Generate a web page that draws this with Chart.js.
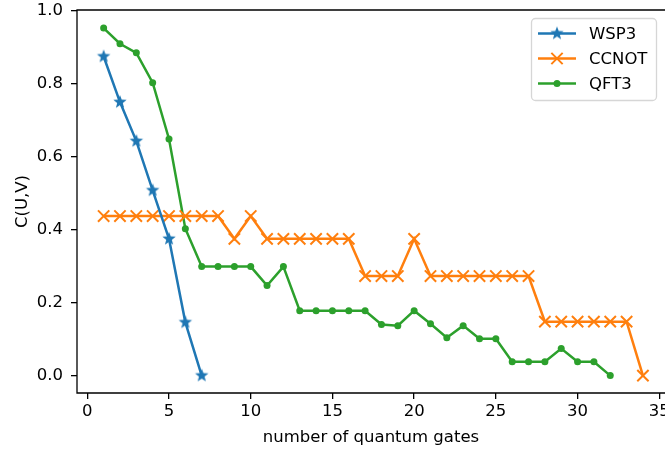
<!DOCTYPE html>
<html>
<head>
<meta charset="utf-8">
<script src="https://cdn.jsdelivr.net/npm/chart.js@4"></script>
<style>
  html, body { margin: 0; padding: 0; background: #fff; overflow: hidden; }
  #wrap { width: 665px; height: 453px; }
</style>
</head>
<body>
<div id="wrap"><canvas id="chart" width="665" height="453"></canvas></div>
<script>
// data
const wspGates = [1, 2, 3, 4, 5, 6, 7];
const wsp3 = [0.875, 0.75, 0.643, 0.508, 0.375, 0.146, 0.0];

const ccnotGates = [1, 2, 3, 4, 5, 6, 7, 8, 9, 10, 11, 12, 13, 14, 15, 16, 17,
    18, 19, 20, 21, 22, 23, 24, 25, 26, 27, 28, 29, 30, 31, 32, 33, 34];
const ccnot = [0.4375, 0.4375, 0.4375, 0.4375, 0.4375, 0.4375, 0.4375, 0.4375,
    0.375, 0.4375, 0.375, 0.375, 0.375, 0.375, 0.375, 0.375, 0.273, 0.273, 0.273,
    0.375, 0.273, 0.273, 0.273, 0.273, 0.273, 0.273, 0.273, 0.148, 0.148, 0.148,
    0.148, 0.148, 0.148, 0.0];

const qftGates = [1, 2, 3, 4, 5, 6, 7, 8, 9, 10, 11, 12, 13, 14, 15, 16, 17,
    18, 19, 20, 21, 22, 23, 24, 25, 26, 27, 28, 29, 30, 31, 32];
const qft3 = [0.953, 0.91, 0.885, 0.803, 0.649, 0.403, 0.299, 0.299, 0.299, 0.299,
    0.247, 0.299, 0.178, 0.178, 0.178, 0.178, 0.178, 0.14, 0.137, 0.178, 0.142,
    0.104, 0.137, 0.101, 0.101, 0.038, 0.038, 0.038, 0.074, 0.038, 0.038, 0.0];

const xTicks = [0, 5, 10, 15, 20, 25, 30, 35];
const yTicks = [0, 0.2, 0.4, 0.6, 0.8, 1.0];

const BLUE = '#1f77b4', ORANGE = '#ff7f0e', GREEN = '#2ca02c';
const FONT = { family: 'DejaVu Sans', size: 16.5 };

// filled 5-point star like matplotlib's '*'
function starImage(color, r) {
    const c = document.createElement('canvas');
    const s = Math.ceil(r * 2 + 2);
    c.width = s; c.height = s;
    const g = c.getContext('2d');
    g.beginPath();
    for (let i = 0; i < 10; i++) {
        const rad = i % 2 === 0 ? r : r * 0.42;
        const a = -Math.PI / 2 + i * Math.PI / 5;
        const px = s / 2 + rad * Math.cos(a), py = s / 2 + rad * Math.sin(a);
        if (i === 0) g.moveTo(px, py); else g.lineTo(px, py);
    }
    g.closePath();
    g.fillStyle = color;
    g.fill();
    return c;
}
const star = starImage(BLUE, 7);

function pts(xs, ys) {
    return xs.map((x, i) => ({ x: x, y: ys[i] }));
}

// left, top and bottom spines over the lines (the right one falls outside the picture)
const frame = {
    id: 'frame',
    afterDatasetsDraw(chart) {
        const a = chart.chartArea, ctx = chart.ctx;
        ctx.save();
        ctx.strokeStyle = '#000';
        ctx.lineWidth = 1.3;
        ctx.beginPath();
        ctx.moveTo(a.right + 2, a.top);
        ctx.lineTo(a.left, a.top);
        ctx.lineTo(a.left, a.bottom);
        ctx.lineTo(a.right + 2, a.bottom);
        ctx.stroke();
        ctx.restore();
    }
};

// matplotlib style legend: line + marker + label in a rounded box
const mplLegend = {
    id: 'mplLegend',
    afterDraw(chart) {
        const ctx = chart.ctx;
        const x0 = 531.5, y0 = 18.5, w = 125, h = 82;
        ctx.save();
        ctx.beginPath();
        ctx.roundRect(x0, y0, w, h, 4);
        ctx.fillStyle = 'rgba(255,255,255,0.8)';
        ctx.fill();
        ctx.strokeStyle = '#d6d6d6';
        ctx.lineWidth = 1.3;
        ctx.stroke();
        chart.data.datasets.forEach((ds, i) => {
            const y = 33.5 + i * 25;
            ctx.beginPath();
            ctx.moveTo(538, y);
            ctx.lineTo(576, y);
            ctx.strokeStyle = ds.borderColor;
            ctx.lineWidth = ds.borderWidth;
            ctx.stroke();
            ctx.fillStyle = ds.pointBackgroundColor;
            ctx.strokeStyle = ds.pointBorderColor;
            ctx.lineWidth = ds.pointBorderWidth;
            Chart.helpers.drawPoint(ctx, {
                pointStyle: ds.pointStyle,
                radius: ds.pointRadius,
                borderWidth: ds.pointBorderWidth,
                rotation: 0
            }, 557, y);
            ctx.fillStyle = '#000';
            ctx.font = FONT.size + 'px "' + FONT.family + '"';
            ctx.textBaseline = 'middle';
            ctx.textAlign = 'left';
            ctx.fillText(ds.label, 589, y + 1);
        });
        ctx.restore();
    }
};

new Chart(document.getElementById('chart'), {
    type: 'scatter',
    data: {
        datasets: [{
            label: 'WSP3',
            data: pts(wspGates, wsp3),
            showLine: true,
            borderColor: BLUE,
            borderWidth: 2.5,
            pointStyle: star,
            pointRadius: 7,
            pointBackgroundColor: BLUE,
            pointBorderColor: BLUE,
            pointBorderWidth: 0
        }, {
            label: 'CCNOT',
            data: pts(ccnotGates, ccnot),
            showLine: true,
            borderColor: ORANGE,
            borderWidth: 2.5,
            pointStyle: 'crossRot',
            pointRadius: 8,
            pointBackgroundColor: ORANGE,
            pointBorderColor: ORANGE,
            pointBorderWidth: 2
        }, {
            label: 'QFT3',
            data: pts(qftGates, qft3),
            showLine: true,
            borderColor: GREEN,
            borderWidth: 2.5,
            pointStyle: 'circle',
            pointRadius: 3.5,
            pointBackgroundColor: GREEN,
            pointBorderColor: GREEN,
            pointBorderWidth: 0
        }]
    },
    options: {
        responsive: false,
        animation: false,
        layout: { autoPadding: false, padding: { top: 10, left: 0, right: 0, bottom: 0 } },
        plugins: { legend: { display: false }, tooltip: { enabled: false } },
        elements: { line: { tension: 0 } },
        scales: {
            x: {
                type: 'linear',
                min: -0.63,
                max: 35.35,
                afterBuildTicks: s => { s.ticks = xTicks.map(v => ({ value: v })); },
                afterFit: s => { s.height = 60; s.paddingLeft = 0; s.paddingRight = 0; },
                grid: { drawOnChartArea: false, drawTicks: true, tickLength: 6, tickColor: '#000', lineWidth: 1.3 },
                border: { display: false },
                ticks: { color: '#000', font: FONT, padding: 3, maxRotation: 0, autoSkip: false },
                title: { display: true, text: 'number of quantum gates', color: '#000', font: FONT, padding: { top: 0, bottom: 5 } }
            },
            y: {
                min: -0.0477,
                max: 1.0025,
                afterBuildTicks: s => { s.ticks = yTicks.map(v => ({ value: v })); },
                afterFit: s => { s.width = 77; s.paddingTop = 0; s.paddingBottom = 0; },
                grid: { drawOnChartArea: false, drawTicks: true, tickLength: 6, tickColor: '#000', lineWidth: 1.3 },
                border: { display: false },
                ticks: { color: '#000', font: FONT, padding: 8, autoSkip: false, callback: v => v.toFixed(1) },
                title: { display: true, text: 'C(U,V)', color: '#000', font: FONT, padding: { top: 13, bottom: 0 } }
            }
        }
    },
    plugins: [frame, mplLegend]
});
</script>
</body>
</html>
